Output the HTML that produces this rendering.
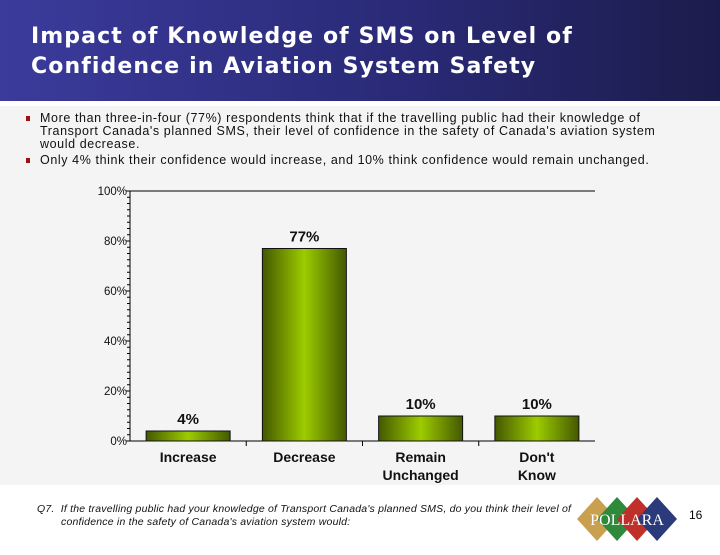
<!DOCTYPE html>
<html><head><meta charset="utf-8">
<style>
body{margin:0;width:720px;height:540px;overflow:hidden;background:#fff;font-family:"Liberation Sans",sans-serif;position:relative}
#hdr{position:absolute;left:0;top:0;width:720px;height:101px;background:linear-gradient(90deg,#3b3b9c,#2a2a78 55%,#1c1c4c)}
#hdr h1{margin:0;position:absolute;left:31px;top:22px;color:#fff;font-family:"DejaVu Sans",sans-serif;font-size:22px;letter-spacing:1.1px;line-height:30px;font-weight:bold;white-space:nowrap}
#body{position:absolute;left:0;top:106px;width:720px;height:379px;background:#f4f4f4}
.bul{position:absolute;left:40px;font-size:12.5px;letter-spacing:0.6px;line-height:13px;color:#111;width:660px;white-space:nowrap}
.bul:before{content:"";position:absolute;left:-14px;top:4px;width:4px;height:5px;background:#a01010}
#q{position:absolute;left:37px;top:503px;font-size:10.5px;letter-spacing:0.2px;font-style:italic;line-height:13px;color:#111;width:560px;white-space:nowrap}
#q span{display:inline-block;width:24px}
</style></head><body>
<div id="hdr"><h1>Impact of Knowledge of SMS on Level of<br>Confidence in Aviation System Safety</h1></div>
<div id="body"></div>
<div class="bul" style="top:112px">More than three-in-four (77%) respondents think that if the travelling public had their knowledge of<br>Transport Canada's planned SMS, their level of confidence in the safety of Canada's aviation system<br>would decrease.</div>
<div class="bul" style="top:154px">Only 4% think their confidence would increase, and 10% think confidence would remain unchanged.</div>
<svg id="chart" width="720" height="540" style="position:absolute;left:0;top:0">
<defs><linearGradient id="g" x1="0" x2="1" y1="0" y2="0">
<stop offset="0" stop-color="#445800"/><stop offset="0.5" stop-color="#9ccc00"/><stop offset="1" stop-color="#445800"/></linearGradient></defs>
</svg>
<div id="q">Q7.&nbsp; If the travelling public had your knowledge of Transport Canada's planned SMS, do you think their level of<br><span></span>confidence in the safety of Canada's aviation system would:</div>
<svg width="120" height="60" style="position:absolute;left:577px;top:495px">
<polygon points="0,24 20,2 40,24 20,46" fill="#c9a050"/>
<polygon points="20,24 40,2 60,24 40,46" fill="#2e8a3a"/>
<polygon points="40,24 60,2 80,24 60,46" fill="#c0302a"/>
<polygon points="60,24 80,2 100,24 80,46" fill="#2a3a7a"/>
<text x="50" y="30" text-anchor="middle" fill="#fff" font-family="Liberation Serif,serif" font-size="16">POLLARA</text>
</svg>
<div style="position:absolute;left:689px;top:508px;font-size:12px">16</div>
<script>
const categories=["Increase","Decrease","Remain|Unchanged","Don't|Know"];
const values=[4,77,10,10];
const labels=["4%","77%","10%","10%"];
const yTicks=[0,20,40,60,80,100];
const svg=document.getElementById('chart');const NS='http://www.w3.org/2000/svg';
const L=130,R=595,T=191,B=441;
const y=v=>B-(v/100)*(B-T);
const cw=(R-L)/categories.length;
const x=i=>L+cw*i;
function mk(t,a,txt){const e=document.createElementNS(NS,t);for(const k in a)e.setAttribute(k,a[k]);if(txt!=null)e.textContent=txt;svg.appendChild(e);return e;}
let e;
e=mk('line',{x1:L,y1:T,x2:R,y2:T,stroke:'#000'});


e=mk('line',{x1:L,y1:T,x2:L,y2:B,stroke:'#000'});


e=mk('line',{x1:L,y1:B,x2:R,y2:B,stroke:'#000'});


for(let v=0;v<=100;v+=2.5){mk('line',{x1:L-(v%20===0?4:3),y1:y(v),x2:L,y2:y(v),stroke:'#000'});}
yTicks.forEach(v=>{e=mk('text',{x:L-3,y:y(v)+4,'text-anchor':'end','font-size':11.5,fill:'#111'},v+'%');

});
for(let i=1;i<categories.length;i++)mk('line',{x1:x(i),y1:B,x2:x(i),y2:B+5,stroke:'#000'});
values.forEach((v,i)=>{const bw=84,bx=x(i)+(cw-bw)/2;
e=mk('rect',{x:bx,y:y(v),width:bw,height:B-y(v),fill:'url(#g)',stroke:'#111','stroke-width':1});


e=mk('text',{x:x(i)+cw/2,y:y(v)-7,'text-anchor':'middle','font-size':15,'font-weight':'bold',fill:'#111'},labels[i]);


categories[i].split('|').forEach((p,j)=>{e=mk('text',{x:x(i)+cw/2,y:B+21+j*18,'text-anchor':'middle','font-size':14,'font-weight':'bold',fill:'#111'},p);

});});
</script>
</body></html>
